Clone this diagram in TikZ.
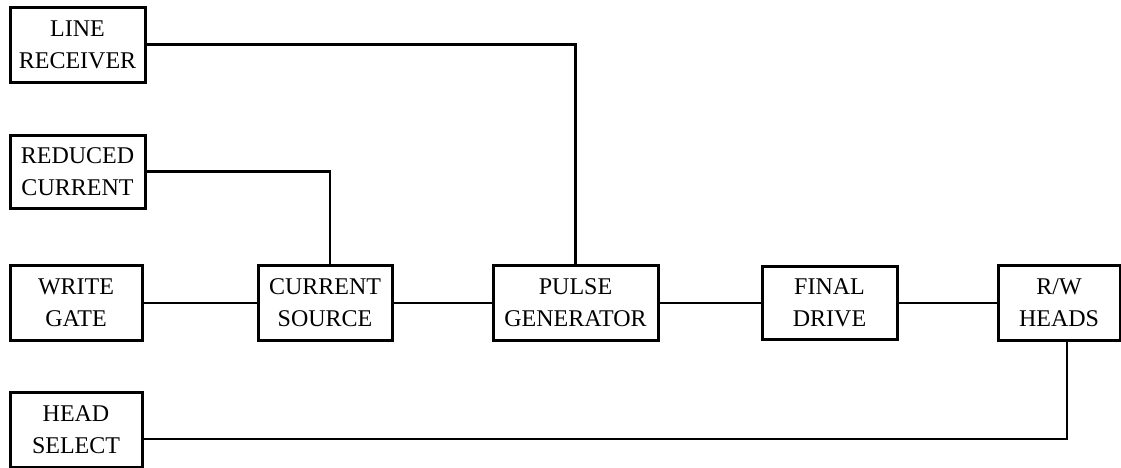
\documentclass[tikz,border=0pt]{standalone}
\usepackage{fontspec}
\setmainfont{Liberation Serif}
\begin{document}
\begin{tikzpicture}[
    x=1pt, y=-1pt,
    bloco/.style={
        draw, line width=3pt,
        minimum width=135pt, minimum height=75pt,
        inner sep=2pt, align=center,
        font=\fontsize{24}{32}\selectfont
    },
    fio/.style={line width=2.5pt}
]
\useasboundingbox (0,0) rectangle (1121,467);

% Entradas a esquerda
\node[bloco] (linha) at (77.5,44.5) {LINE\\RECEIVER};
\node[bloco, minimum height=73pt] (reduz) at (77.5,171.5) {REDUCED\\CURRENT};
\node[bloco, minimum width=132pt] (porta) at (76,303) {WRITE\\GATE};
\node[bloco, minimum width=132pt] (selec) at (76,430) {HEAD\\SELECT};

% Cadeia principal
\node[bloco, minimum width=134pt] (fonte) at (325,303) {CURRENT\\SOURCE};
\node[bloco, minimum width=165pt] (pulso) at (575.5,303) {PULSE\\GENERATOR};
\node[bloco, minimum height=73pt] (final) at (829.5,303) {FINAL\\DRIVE};
\node[bloco, minimum width=122pt] (cabeca) at (1059,303) {R/W\\HEADS};

% Ligacoes
\draw[fio] (linha.east) -| (pulso.north);
\draw[fio] (reduz.east) -| ([xshift=5pt]fonte.north);
\draw[fio] (porta) -- (fonte);
\draw[fio] (fonte) -- (pulso);
\draw[fio] (pulso) -- (final);
\draw[fio] (final) -- (cabeca);

% Retorno das cabecas
\draw[fio] ([xshift=8pt]cabeca.south) |- ([yshift=-9pt]selec.east);

\end{tikzpicture}
\end{document}
